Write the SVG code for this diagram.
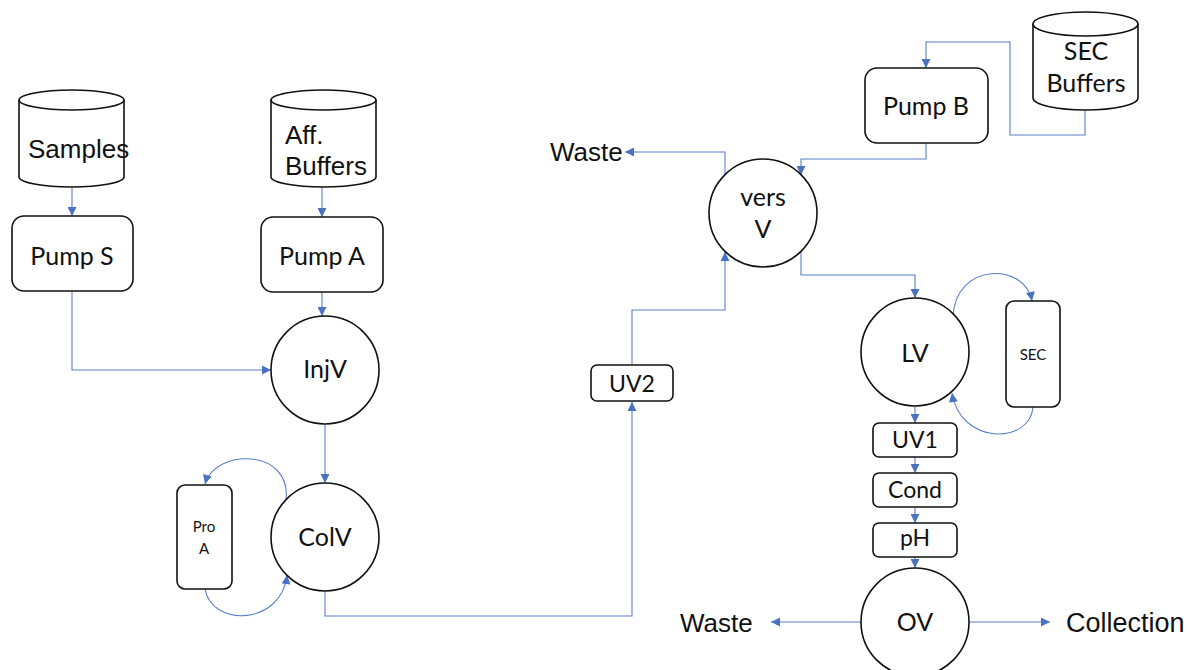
<svg xmlns="http://www.w3.org/2000/svg" width="1191" height="670" viewBox="0 0 1191 670">
<style>
.n{fill:#fff;stroke:#111;stroke-width:1.6}
.c{fill:none;stroke:#5b7fc7;stroke-width:1.1}
.a{font-family:"Liberation Sans",Arial,sans-serif;font-size:26px;fill:#111}
.b{font-family:Lato,"Open Sans",sans-serif;font-size:25px;fill:#111;text-anchor:middle}
.s{font-family:Lato,"Open Sans",sans-serif;font-size:15px;fill:#111;text-anchor:middle}
</style>
<defs>
<marker id="ar" viewBox="0 0 10 10" refX="10" refY="5" markerWidth="10" markerHeight="9" markerUnits="userSpaceOnUse" orient="auto">
<path d="M0,0 L10,5 L0,10 Z" fill="#4a72c2"/>
</marker>
</defs>
<rect width="1191" height="670" fill="#fff"/>
<g id="connectors">
<path class="c" marker-end="url(#ar)" d="M72,187 V216"/>
<path class="c" marker-end="url(#ar)" d="M322,187 V217"/>
<path class="c" marker-end="url(#ar)" d="M72,291 V370 H271"/>
<path class="c" marker-end="url(#ar)" d="M322,292 V316"/>
<path class="c" marker-end="url(#ar)" d="M325,424 V483"/>
<path class="c" marker-end="url(#ar)" d="M286,500 C292,448 215,448 205,484"/>
<path class="c" marker-end="url(#ar)" d="M205,589 C212,628 282,625 287,575"/>
<path class="c" marker-end="url(#ar)" d="M325,591 V616 H632 V402"/>
<path class="c" marker-end="url(#ar)" d="M632,365 V310 H725 V252"/>
<path class="c" marker-end="url(#ar)" d="M725,175 V152 H625"/>
<path class="c" marker-end="url(#ar)" d="M1085,109 V135 H1010 V42 H926 V68"/>
<path class="c" marker-end="url(#ar)" d="M926,143 V159 H801 V175"/>
<path class="c" marker-end="url(#ar)" d="M801,251 V275 H915 V298"/>
<path class="c" marker-end="url(#ar)" d="M953,317 C955,262 1025,262 1032,301"/>
<path class="c" marker-end="url(#ar)" d="M1033,407 C1030,445 960,445 952,393"/>
<path class="c" marker-end="url(#ar)" d="M915,406 V423"/>
<path class="c" marker-end="url(#ar)" d="M915,457 V473"/>
<path class="c" marker-end="url(#ar)" d="M915,507 V523"/>
<path class="c" marker-end="url(#ar)" d="M915,557 V568"/>
<path class="c" marker-end="url(#ar)" d="M862,622 H771"/>
<path class="c" marker-end="url(#ar)" d="M969,622 H1050"/>
</g>
<g id="samples">
<path class="n" d="M19,100 A52.5,10 0 0 1 124,100 V177 A52.5,10 0 0 1 19,177 Z"/>
<path class="n" d="M19,100 A52.5,10 0 0 0 124,100"/>
<text class="a" x="28" y="158">Samples</text>
</g>
<g id="aff-buffers">
<path class="n" d="M271,100 A52.5,10 0 0 1 376,100 V177 A52.5,10 0 0 1 271,177 Z"/>
<path class="n" d="M271,100 A52.5,10 0 0 0 376,100"/>
<text class="a" x="285" y="144">Aff.</text>
<text class="a" x="285" y="175">Buffers</text>
</g>
<g id="sec-buffers">
<path class="n" d="M1033,24 A52.5,12 0 0 1 1138,24 V98 A52.5,12 0 0 1 1033,98 Z"/>
<path class="n" d="M1033,24 A52.5,12 0 0 0 1138,24"/>
<text class="b" x="1086" y="60">SEC</text>
<text class="b" x="1086" y="92">Buffers</text>
</g>
<g id="pump-s">
<rect class="n" x="12" y="216" width="121" height="75" rx="12"/>
<text class="b" x="72" y="265">Pump S</text>
</g>
<g id="pump-a">
<rect class="n" x="261" y="217" width="122" height="75" rx="12"/>
<text class="b" x="322" y="265">Pump A</text>
</g>
<g id="pump-b">
<rect class="n" x="865" y="68" width="123" height="75" rx="12"/>
<text class="b" x="926" y="115">Pump B</text>
</g>
<g id="injv">
<circle class="n" cx="325" cy="370" r="54"/>
<text class="b" x="325" y="378">InjV</text>
</g>
<g id="colv">
<circle class="n" cx="325" cy="537" r="54"/>
<text class="b" x="325" y="546">ColV</text>
</g>
<g id="pro-a">
<rect class="n" x="177" y="485" width="55" height="104" rx="8"/>
<text class="s" x="204" y="532">Pro</text>
<text class="s" x="204" y="554">A</text>
</g>
<g id="uv2">
<rect class="n" x="591" y="365" width="82" height="36" rx="6"/>
<text class="b" x="632" y="392" style="font-size:23px">UV2</text>
</g>
<g id="vers-v">
<circle class="n" cx="763" cy="213" r="54"/>
<text class="b" x="763" y="206">vers</text>
<text class="b" x="763" y="238">V</text>
</g>
<g id="waste-top">
<text class="a" x="550" y="161">Waste</text>
</g>
<g id="lv">
<circle class="n" cx="915" cy="352" r="54"/>
<text class="b" x="915" y="362">LV</text>
</g>
<g id="sec">
<rect class="n" x="1006" y="301" width="54" height="106" rx="8"/>
<text class="s" x="1033" y="360">SEC</text>
</g>
<g id="uv1">
<rect class="n" x="873" y="423" width="84" height="34" rx="6"/>
<text class="b" x="915" y="448" style="font-size:23px">UV1</text>
</g>
<g id="cond">
<rect class="n" x="873" y="473" width="84" height="34" rx="6"/>
<text class="b" x="915" y="498" style="font-size:23px">Cond</text>
</g>
<g id="ph">
<rect class="n" x="873" y="523" width="84" height="34" rx="6"/>
<text class="b" x="915" y="546" style="font-size:23px">pH</text>
</g>
<g id="ov">
<circle class="n" cx="915" cy="622" r="54"/>
<text class="b" x="915" y="631">OV</text>
</g>
<g id="waste-bottom">
<text class="a" x="680" y="632">Waste</text>
</g>
<g id="collection">
<text class="a" x="1066" y="632" style="font-size:27px">Collection</text>
</g>
</svg>
